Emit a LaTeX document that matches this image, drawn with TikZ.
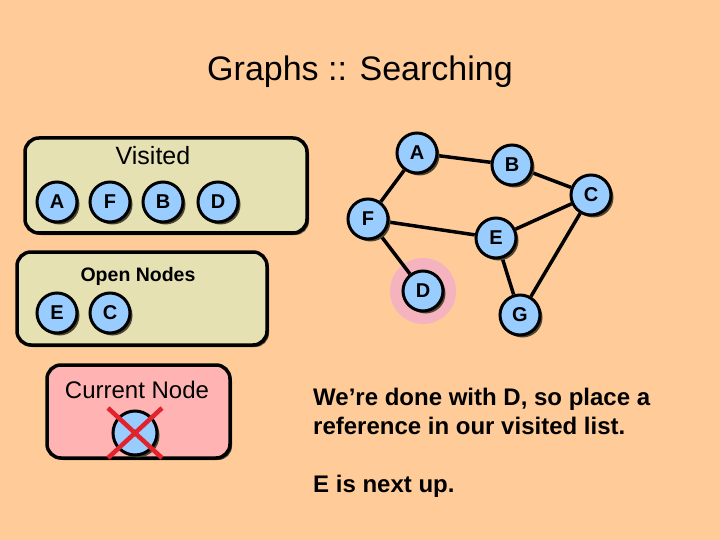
\documentclass[tikz,border=0pt]{standalone}
\usepackage{fontspec}
\setmainfont{Liberation Sans}
\usetikzlibrary{positioning,shadows,backgrounds}
\definecolor{fondo}{HTML}{FFCC99}
\definecolor{nodoazul}{HTML}{99CCFF}
\definecolor{caqui}{HTML}{E5E1B2}
\definecolor{rosa}{HTML}{FFB3B3}
\definecolor{halo}{HTML}{F4B3BE}
\definecolor{cruz}{HTML}{E3232B}
\definecolor{sombra}{HTML}{4A4533}
\tikzset{
  gnode/.style={circle, draw=black, line width=3pt, fill=nodoazul, minimum size=40pt,
    inner sep=0pt, font=\fontsize{20}{24}\selectfont\bfseries,
    drop shadow={shadow xshift=2.5pt, shadow yshift=-2.5pt, fill=sombra, opacity=1}},
  caja/.style={rectangle, rounded corners=14pt, draw=black, line width=3.5pt, fill=caqui,
    drop shadow={shadow xshift=2pt, shadow yshift=-2pt, fill=sombra, opacity=1}},
  arista/.style={line width=3.5pt, black},
  tacha/.style={line width=4.5pt, cruz},
  rotulo/.style={anchor=base, inner sep=0pt},
  texto/.style={anchor=base west, inner sep=0pt, font=\fontsize{24}{29}\selectfont\bfseries},
}

\begin{document}
\begin{tikzpicture}[x=1pt, y=-1pt]
    \useasboundingbox (0,0) rectangle (720,540);
    \node[rotulo, font=\fontsize{34}{40}\selectfont] (titulo) at (360,81) {Graphs :: Searching};
    % listas
    \node[caja, minimum width=282pt, minimum height=95pt] (visited) at (166,185.5) {};
    \node[rotulo, font=\fontsize{25}{29}\selectfont] (lvisited) at (153,165) {Visited};
    \foreach \l/\x in {A/57, F/110, B/163, D/218}
      \node[gnode] (v\l) at (\x,202) {\l};
    \node[caja, minimum width=250pt, minimum height=93pt] (open) at (142,298.5) {};
    \node[rotulo, font=\fontsize{19.5}{23}\selectfont\bfseries] (lopen) at (138,281) {Open Nodes};
    \foreach \l/\x in {E/57, C/110}
      \node[gnode] (o\l) at (\x,313) {\l};
    \node[caja, fill=rosa, minimum width=183pt, minimum height=93pt] (current) at (138.5,411.5) {};
    \node[rotulo, font=\fontsize{24}{28}\selectfont] (lcurrent) at (137,398) {Current Node};
    \node[gnode, minimum size=44pt] (cur) at (135,433) {};
    \draw[tacha] ([shift={(-27,-25)}]cur.center) -- ([shift={(27,25)}]cur.center);
    \draw[tacha] ([shift={(27,-25)}]cur.center) -- ([shift={(-27,25)}]cur.center);
    % grafo
    \foreach \l/\x/\y in {A/417/153, B/512/165, C/591/195, F/368/219, E/496/238, D/423/291, G/520/315}
      \node[gnode] (g\l) at (\x,\y) {\l};
    \begin{scope}[on background layer]
      \fill[fondo] (0,0) rectangle (720,540);
      \fill[halo] (gD) circle (33pt);
      \foreach \a/\b in {A/B, A/F, B/C, C/E, C/G, F/E, F/D, E/G}
        \draw[arista] (g\a) -- (g\b);
    \end{scope}
    % texto
    \node[texto] (linea1) at (313,405) {We’re done with D, so place a};
    \node[texto] (linea2) at (313,434) {reference in our visited list.};
    \node[texto] (linea3) at (313,492) {E is next up.};
  \end{tikzpicture}
\end{document}
